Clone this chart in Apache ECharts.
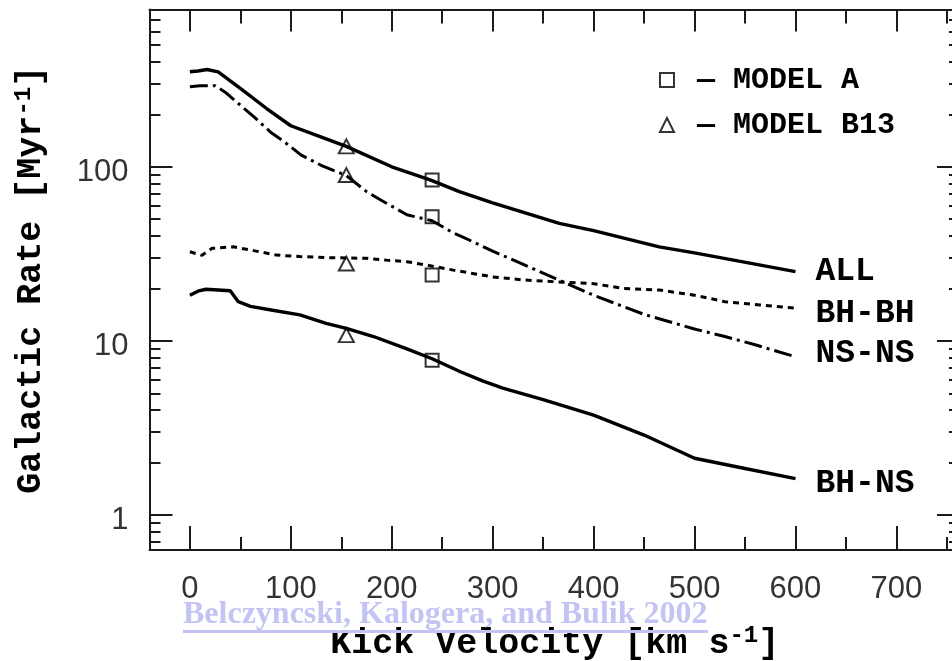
<!DOCTYPE html>
<html>
<head>
<meta charset="utf-8">
<script src="https://cdn.jsdelivr.net/npm/echarts@6/dist/echarts.min.js"></script>
<style>
  html, body { margin: 0; padding: 0; background: #fff; }
  #chart { width: 952px; height: 661px; }
</style>
</head>
<body>
<div id="chart"></div>
<script>
// ---- Data ----
const kickTicks = [0, 100, 200, 300, 400, 500, 600, 700];
const kickMinorTicks = [50, 150, 250, 350, 450, 550, 650, 750];
const rateTicks = [1, 10, 100];
const rateMinorTicks = [0.7, 0.8, 0.9, 2, 3, 4, 5, 6, 7, 8, 9, 20, 30, 40, 50, 60, 70, 80, 90, 200, 300, 400, 500, 600, 700];

const allKick  = [0, 8, 17, 28, 50, 76, 100, 125, 155, 200, 238, 267, 300, 366, 400, 465, 500, 600];
const allRate  = [351, 355, 362, 351, 282, 216, 172, 152, 131, 100, 84, 72, 62, 47.3, 43, 34.7, 32, 25];

const nsnsKick = [0, 10, 25, 35, 50, 65, 80, 95, 110, 130, 155, 175, 190, 215, 240, 260, 270, 300, 350, 400, 450, 500, 530, 560, 600];
const nsnsRate = [288, 292, 292, 268, 226, 190, 158, 137, 117, 102, 89, 72, 64, 53, 49, 42, 39.6, 32.8, 24.5, 18.3, 14.2, 11.7, 10.6, 9.5, 8.1];

const bhbhKick = [0, 12, 22, 43, 63, 86, 109, 135, 175, 195, 215, 234, 261, 300, 330, 360, 400, 430, 465, 500, 530, 565, 600];
const bhbhRate = [32.5, 31, 34, 34.7, 33, 31.1, 30.5, 30.1, 29.8, 29.1, 28.5, 27.3, 25.5, 23.3, 22.4, 21.9, 21.3, 20, 19.6, 18.3, 16.8, 16.1, 15.4];

const bhnsKick = [0, 8, 16, 28, 40, 48, 60, 82, 109, 135, 155, 182, 215, 240, 268, 290, 310, 350, 400, 450, 500, 550, 600];
const bhnsRate = [18.3, 19.3, 19.8, 19.6, 19.4, 16.8, 15.8, 15, 14.1, 12.6, 11.8, 10.6, 9.0, 7.9, 6.65, 5.9, 5.35, 4.6, 3.75, 2.88, 2.12, 1.85, 1.62];

// Model markers (ALL, NS-NS, BH-BH, BH-NS)
const modelAKick = [240, 240, 240, 240];
const modelARate = [84, 51.6, 23.9, 7.75];
const modelB13Kick = [155, 155, 155, 155];
const modelB13Rate = [131, 89.6, 27.8, 10.8];

const citation = 'Belczyncski, Kalogera, and Bulik 2002';

// ---- Helpers ----
const pairs = (xs, ys) => xs.map((x, i) => [x, ys[i]]);
const MONO = "'Liberation Mono', 'DejaVu Sans Mono', monospace";
const SANS = "'Liberation Sans', Arial, sans-serif";
const LINE = '#1a1a1a';
const X_MIN = -40, X_MAX = 763;
const Y_MIN = 0.63, Y_MAX = 800;

function xAxis(grid, position, ticks, len, extra) {
  return Object.assign({
    type: 'value', gridIndex: grid, position: position, min: X_MIN, max: X_MAX,
    axisLine: { show: grid === 0, onZero: false, lineStyle: { color: LINE, width: 2 } },
    axisTick: { show: true, inside: true, length: len, customValues: ticks, lineStyle: { color: LINE, width: 2 } },
    axisLabel: { show: false },
    splitLine: { show: false }
  }, extra || {});
}
function yAxis(grid, position, ticks, len, extra) {
  return Object.assign({
    type: 'log', logBase: 10, gridIndex: grid, position: position, min: Y_MIN, max: Y_MAX,
    axisLine: { show: grid === 0, onZero: false, lineStyle: { color: LINE, width: 2 } },
    axisTick: { show: true, inside: true, length: len, customValues: ticks, lineStyle: { color: LINE, width: 2 } },
    axisLabel: { show: false },
    splitLine: { show: false }
  }, extra || {});
}

const curveLabel = (dy) => ({
  show: true, formatter: '{a}', distance: 20, offset: [0, dy],
  fontFamily: MONO, fontWeight: 'bold', fontSize: 33, color: '#000'
});

function curve(name, xs, ys, type, dy, width) {
  return {
    name: name, type: 'line', xAxisIndex: 0, yAxisIndex: 0,
    data: pairs(xs, ys), showSymbol: false, symbol: 'none',
    lineStyle: { color: '#000', width: width, type: type, cap: 'butt' },
    endLabel: curveLabel(dy), z: 3
  };
}

const titleStyle = {
  fontFamily: MONO, fontWeight: 'bold', fontSize: 35, color: '#000', lineHeight: 40,
  rich: { sup: { fontFamily: MONO, fontWeight: 'bold', fontSize: 24, color: '#000', verticalAlign: 'top', lineHeight: 27 } }
};

const chart = echarts.init(document.getElementById('chart'), null, { renderer: 'canvas' });
const gridBox = { left: 149.5, right: -8, top: 9.5, bottom: 111, containLabel: false, outerBoundsMode: 'none' };

const option = {
  animation: false,
  backgroundColor: '#ffffff',
  grid: [Object.assign({}, gridBox), Object.assign({}, gridBox)],
  xAxis: [
    xAxis(0, 'bottom', kickTicks, 24, {
      axisLabel: { show: true, customValues: kickTicks, fontFamily: SANS, fontSize: 31, color: '#333', margin: 24 },
      name: 'Kick Velocity [km s{sup|-1}]', nameLocation: 'middle', nameGap: 74,
      nameTextStyle: titleStyle
    }),
    xAxis(0, 'top', kickTicks, 22),
    xAxis(1, 'bottom', kickMinorTicks, 13),
    xAxis(1, 'top', kickMinorTicks, 14)
  ],
  yAxis: [
    yAxis(0, 'left', rateTicks, 23, {
      axisLabel: {
        show: true, customValues: rateTicks, margin: 21,
        formatter: (v) => '{v|' + v + '}',
        rich: { v: { fontFamily: SANS, fontSize: 31, color: '#333', padding: [11, 0, 0, 0] } }
      },
      name: 'Galactic Rate [Myr{sup|-1}]', nameLocation: 'middle', nameGap: 98,
      nameTextStyle: titleStyle
    }),
    yAxis(0, 'right', rateTicks, 23),
    yAxis(1, 'left', rateMinorTicks, 11),
    yAxis(1, 'right', rateMinorTicks, 11)
  ],
  legend: {
    data: [
      { name: 'MODEL A', icon: 'rect' },
      { name: 'MODEL B13', icon: 'triangle' }
    ],
    orient: 'vertical', left: 659, top: 64, padding: 0,
    itemWidth: 14, itemHeight: 14, itemGap: 13,
    itemStyle: { color: '#fff', borderColor: '#000', borderWidth: 2 },
    formatter: (n) => ' \u2014 ' + n,
    textStyle: { fontFamily: MONO, fontWeight: 'bold', fontSize: 30, color: '#000', lineHeight: 32 },
    selectedMode: false
  },
  series: [
    curve('ALL', allKick, allRate, 'solid', 0, 3.4),
    curve('BH-BH', bhbhKick, bhbhRate, [6, 5], 5, 3),
    curve('NS-NS', nsnsKick, nsnsRate, [18, 5, 3, 5], -3, 3),
    curve('BH-NS', bhnsKick, bhnsRate, 'solid', 5, 3.4),
    {
      name: 'MODEL A', type: 'scatter', xAxisIndex: 0, yAxisIndex: 0,
      data: pairs(modelAKick, modelARate), symbol: 'rect', symbolSize: 13,
      itemStyle: { color: 'rgba(255,255,255,0)', borderColor: '#000', borderWidth: 2 }, z: 4
    },
    {
      name: 'MODEL B13', type: 'scatter', xAxisIndex: 0, yAxisIndex: 0,
      data: pairs(modelB13Kick, modelB13Rate), symbol: 'triangle', symbolSize: [15, 14],
      itemStyle: { color: 'rgba(255,255,255,0)', borderColor: '#000', borderWidth: 2 }, z: 4
    }
  ],
  graphic: [
    {
      type: 'text', left: 183, top: 599, z: 100,
      style: { text: citation, fontFamily: "'Liberation Serif', 'Times New Roman', serif", fontWeight: 'bold', fontSize: 32, fill: '#c4c4f4' }
    },
    {
      type: 'rect', left: 183, top: 630, z: 100,
      shape: { width: 525, height: 3 },
      style: { fill: '#c4c4f4' }
    }
  ]
};
chart.setOption(option);
</script>
</body>
</html>
